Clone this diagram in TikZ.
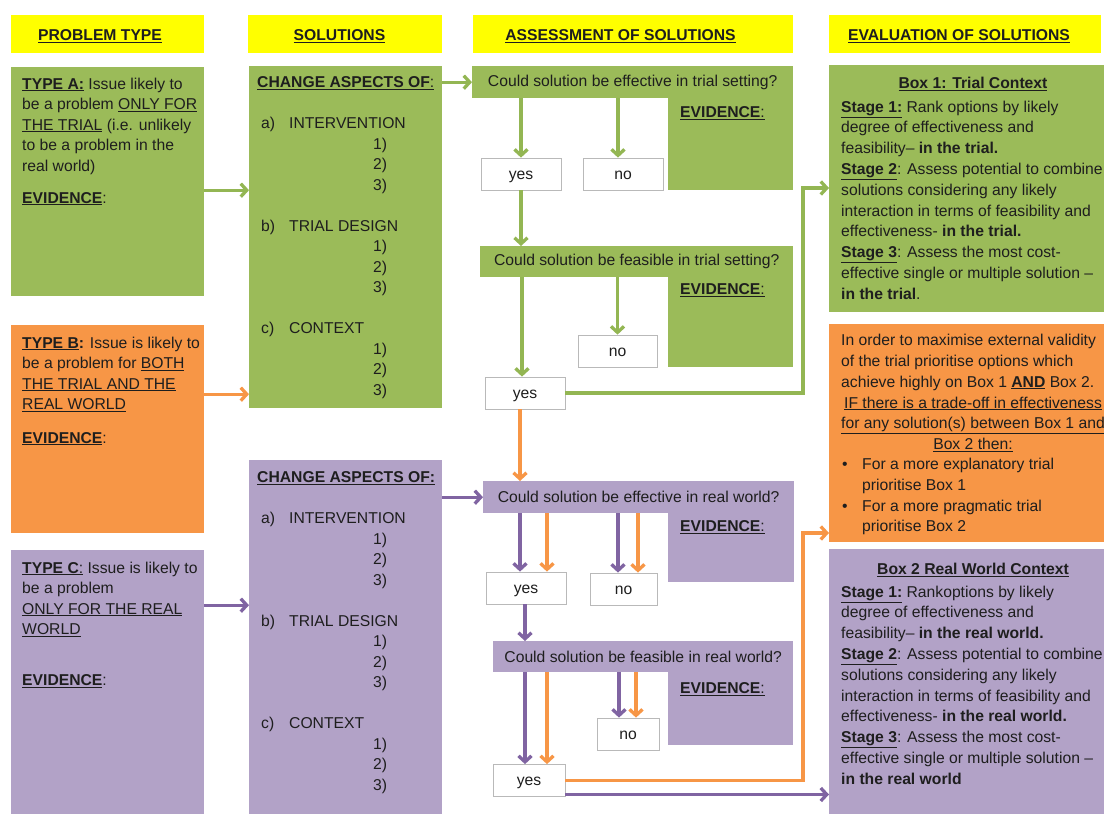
\documentclass[tikz,border=0pt]{standalone}
\usepackage{fontspec}
\setmainfont{Liberation Sans}
\usetikzlibrary{arrows.meta,calc}
\definecolor{hdr}{HTML}{FFFF00}
\definecolor{gF}{HTML}{9BBB59}
\definecolor{oF}{HTML}{F79646}
\definecolor{pF}{HTML}{B2A2C7}
\definecolor{gA}{HTML}{93B653}
\definecolor{oA}{HTML}{F79646}
\definecolor{pA}{HTML}{8064A2}
\definecolor{ink}{HTML}{1E1E1E}
\newcommand{\uln}[1]{\underline{#1}}
\newcommand{\fsz}{\fontsize{15.7}{20.5}\selectfont}
\newcommand{\fszr}{\fontsize{15.7}{20.8}\selectfont}
\tikzset{
  fbox/.style={draw=none, inner sep=0, anchor=north west},
  txt/.style={anchor=north west, inner sep=0, align=left, font=\fsz, text=ink},
  txtr/.style={anchor=north west, inner sep=0, align=left, font=\fszr, text=ink},
  hd/.style={anchor=base, inner sep=0, font=\fsz, text=ink},
  lbl/.style={anchor=base west, inner sep=0, font=\fsz, text=ink},
  qband/.style={inner sep=0, font=\fsz, text=ink, anchor=north west},
  yn/.style={draw=gray!55, line width=0.8pt, fill=white, inner sep=0, font=\fsz, text=ink, minimum height=32, text height=11.5pt, text depth=1.5pt},
  arr/.style={line width=3.3pt, -{Straight Barb[length=6pt,width=13pt]}},
  ga/.style={arr, draw=gA},
  oa/.style={arr, draw=oA},
  pa/.style={arr, draw=pA},
}
\begin{document}
\begin{tikzpicture}[x=1pt,y=-1pt]
\useasboundingbox (0,0) rectangle (1104,814);
\fill[white] (0,0) rectangle (1104,814);

% headers
\node[fbox, fill=hdr, minimum width=193, minimum height=38] (h1) at (11,15) {};
\node[fbox, fill=hdr, minimum width=194, minimum height=38] (h2) at (248,15) {};
\node[fbox, fill=hdr, minimum width=320, minimum height=38] (h3) at (473,15) {};
\node[fbox, fill=hdr, minimum width=272, minimum height=38] (h4) at (829,15) {};
\node[hd] (h1t) at (100,40.7) {\uln{\textbf{PROBLEM TYPE}}};
\node[hd] (h2t) at (339.5,40.7) {\uln{\textbf{SOLUTIONS}}};
\node[hd] (h3t) at (620.5,40.7) {\uln{\textbf{ASSESSMENT OF SOLUTIONS}}};
\node[hd] (h4t) at (959,40.7) {\uln{\textbf{EVALUATION OF SOLUTIONS}}};

% column 1
\node[fbox, fill=gF, minimum width=193, minimum height=229] (ta) at (11,67) {};
\node[fbox, fill=oF, minimum width=193, minimum height=208] (tb) at (11,325) {};
\node[fbox, fill=pF, minimum width=193, minimum height=264] (tc) at (11,550) {};
\node[txt] (tat) at (22,77.5) {\uln{\textbf{TYPE A:}} Issue likely to\\ be a problem \uln{ONLY FOR}\\ \uln{THE TRIAL} (i.e. unlikely\\ to be a problem in the\\ real world)\\[11.5pt] \uln{\textbf{EVIDENCE}}:};
\node[txt] (tbt) at (22,336.5) {\uln{\textbf{TYPE B}}\textbf{:} Issue is likely to\\ be a problem for \uln{BOTH}\\ \uln{THE TRIAL AND THE}\\ \uln{REAL WORLD}\\[13pt] \uln{\textbf{EVIDENCE}}:};
\node[txt] (tct) at (22,561.5) {\uln{\textbf{TYPE C}:} Issue is likely to\\ be a problem\\ \uln{ONLY FOR THE REAL}\\ \uln{WORLD}\\[30.5pt] \uln{\textbf{EVIDENCE}}:};

% column 2
\node[fbox, fill=gF, minimum width=193, minimum height=342] (sg) at (249,66) {};
\node[fbox, fill=pF, minimum width=193, minimum height=354] (sp) at (249,460) {};
\node[txt] (sgt) at (257,76.5) {\uln{\textbf{CHANGE ASPECTS OF}}\uln{:}\\[20.5pt]
\hspace*{4pt}\makebox[28pt][l]{a)}INTERVENTION\\ \hspace*{116pt}1)\\ \hspace*{116pt}2)\\ \hspace*{116pt}3)\\[20.5pt]
\hspace*{4pt}\makebox[28pt][l]{b)}TRIAL DESIGN\\ \hspace*{116pt}1)\\ \hspace*{116pt}2)\\ \hspace*{116pt}3)\\[20.5pt]
\hspace*{4pt}\makebox[28pt][l]{c)}CONTEXT\\ \hspace*{116pt}1)\\ \hspace*{116pt}2)\\ \hspace*{116pt}3)};
\node[txt] (spt) at (257,471.5) {\uln{\textbf{CHANGE ASPECTS OF:}}\\[20.5pt]
\hspace*{4pt}\makebox[28pt][l]{a)}INTERVENTION\\ \hspace*{116pt}1)\\ \hspace*{116pt}2)\\ \hspace*{116pt}3)\\[20.5pt]
\hspace*{4pt}\makebox[28pt][l]{b)}TRIAL DESIGN\\ \hspace*{116pt}1)\\ \hspace*{116pt}2)\\ \hspace*{116pt}3)\\[20.5pt]
\hspace*{4pt}\makebox[28pt][l]{c)}CONTEXT\\ \hspace*{116pt}1)\\ \hspace*{116pt}2)\\ \hspace*{116pt}3)};

% column 3: questions
\node[qband, fill=gF, minimum width=321, minimum height=32] (q1) at (472,66) {Could solution be effective in trial setting?};
\node[fbox, fill=gF, minimum width=125, minimum height=93] (e1) at (668,97) {};
\node[qband, fill=gF, minimum width=313, minimum height=31] (q2) at (480,246) {Could solution be feasible in trial setting?};
\node[fbox, fill=gF, minimum width=125, minimum height=91] (e2) at (668,276) {};
\node[qband, fill=pF, minimum width=311, minimum height=32] (q3) at (483,481) {Could solution be effective in real world?};
\node[fbox, fill=pF, minimum width=126, minimum height=70] (e3) at (668,512) {};
\node[qband, fill=pF, minimum width=300, minimum height=31] (q4) at (493,641) {Could solution be feasible in real world?};
\node[fbox, fill=pF, minimum width=125, minimum height=74] (e4) at (668,671) {};
\node[lbl] (e1t) at (680,117.7) {\uln{\textbf{EVIDENCE}}\uln{:}};
\node[lbl] (e2t) at (680,294.7) {\uln{\textbf{EVIDENCE}}\uln{:}};
\node[lbl] (e3t) at (680,531.7) {\uln{\textbf{EVIDENCE}}\uln{:}};
\node[lbl] (e4t) at (680,693.7) {\uln{\textbf{EVIDENCE}}\uln{:}};

\node[yn, minimum width=80] (y1) at (521,174) {yes};
\node[yn, minimum width=80] (n1) at (623,174) {no};
\node[yn, minimum width=79] (n2) at (617.5,351) {no};
\node[yn, minimum width=80] (y2) at (525,393) {yes};
\node[yn, minimum width=80] (y3) at (526,588) {yes};
\node[yn, minimum width=67] (n3) at (623.5,589) {no};
\node[yn, minimum width=62] (n4) at (628,734) {no};
\node[yn, minimum width=72] (y4) at (529,780.5) {yes};

% column 4
\node[fbox, fill=gF, minimum width=275, minimum height=247] (b1) at (829,65) {};
\node[fbox, fill=oF, minimum width=275, minimum height=218] (ob) at (829,324) {};
\node[fbox, fill=pF, minimum width=275, minimum height=265] (b2) at (829,549) {};

\node[hd] (b1h) at (973,88.7) {\uln{\textbf{Box 1: Trial Context}}};
\node[txtr] (b1t) at (841,100.5) {\uln{\textbf{Stage 1:}} Rank options by likely\\ degree of effectiveness and\\ feasibility\textendash{} \textbf{in the trial.}\\ \uln{\textbf{Stage 2}}: Assess potential to combine\\ solutions considering any likely\\ interaction in terms of feasibility and\\ effectiveness- \textbf{in the trial.}\\ \uln{\textbf{Stage 3}}: Assess the most cost-\\ effective single or multiple solution \textendash\\ \textbf{in the trial}.};

\node[txtr] (obt) at (841,334) {In order to maximise external validity\\ of the trial prioritise options which\\ achieve highly on Box 1 \uln{\textbf{AND}} Box 2.};
\node[anchor=north, inner sep=0, align=center, font=\fszr, text=ink] (obc) at (973,396.5) {\uln{IF there is a trade-off in effectiveness}\\ \uln{for any solution(s) between Box 1 and}\\ \uln{Box 2 then:}};
\node[txtr] (obb) at (842,458) {\makebox[20pt][l]{\textbullet}For a more explanatory trial\\ \hspace*{20pt}prioritise Box 1\\ \makebox[20pt][l]{\textbullet}For a more pragmatic trial\\ \hspace*{20pt}prioritise Box 2};

\node[hd] (b2h) at (973,574.7) {\uln{\textbf{Box 2 Real World Context}}};
\node[txtr] (b2t) at (841,585.5) {\uln{\textbf{Stage 1:}} Rankoptions by likely\\ degree of effectiveness and\\ feasibility\textendash{} \textbf{in the real world.}\\ \uln{\textbf{Stage 2}}: Assess potential to combine\\ solutions considering any likely\\ interaction in terms of feasibility and\\ effectiveness- \textbf{in the real world.}\\ \uln{\textbf{Stage 3}}: Assess the most cost-\\ effective single or multiple solution \textendash\\ \textbf{in the real world}};

% connectors
\draw[ga] ([yshift=-8.5]ta.east) -- ([yshift=-8.5]ta.east -| sg.west);
\draw[oa] ([yshift=35]tb.east) -- ([yshift=35]tb.east -| sg.west);
\draw[pa] ([yshift=77]tc.east) -- ([yshift=77]tc.east -| sp.west);
\draw[ga] (q1.west -| sg.east) -- (q1.west);
\draw[pa] (q3.west -| sp.east) -- (q3.west);

\draw[ga] (y1.north |- q1.south) -- (y1.north);
\draw[ga] ([xshift=-5]n1.north |- q1.south) -- ([xshift=-5]n1.north);
\draw[ga] (y1.south) -- (y1.south |- q2.north);
\draw[ga] (n2.north |- q2.south) -- (n2.north);
\draw[ga] ([xshift=-3]y2.north |- q2.south) -- ([xshift=-3]y2.north);
\coordinate (k1) at (803,188);
\draw[ga] (y2.east) -| (k1) -- (k1 -| b1.west);
\draw[oa] ([xshift=-5]y2.south) -- ([xshift=-5]y2.south |- q3.north);

\draw[pa] ([xshift=-6]y3.north |- q3.south) -- ([xshift=-6]y3.north);
\draw[oa] ([xshift=21]y3.north |- q3.south) -- ([xshift=21]y3.north);
\draw[pa] ([xshift=-5.5]n3.north |- q3.south) -- ([xshift=-5.5]n3.north);
\draw[oa] ([xshift=14.5]n3.north |- q3.south) -- ([xshift=14.5]n3.north);
\draw[pa] ([xshift=-1]y3.south) -- ([xshift=-1]y3.south |- q4.north);
\draw[pa] ([xshift=-9]n4.north |- q4.south) -- ([xshift=-9]n4.north);
\draw[oa] ([xshift=8]n4.north |- q4.south) -- ([xshift=8]n4.north);
\draw[pa] ([xshift=-4]y4.north |- q4.south) -- ([xshift=-4]y4.north);
\draw[oa] ([xshift=18]y4.north |- q4.south) -- ([xshift=18]y4.north);
\coordinate (k2) at (803,533);
\draw[oa] (y4.east) -| (k2) -- (k2 -| ob.west);
\draw[pa] ([yshift=-14]y4.east) -- ([yshift=-14]y4.east -| b2.west);
\end{tikzpicture}
\end{document}
